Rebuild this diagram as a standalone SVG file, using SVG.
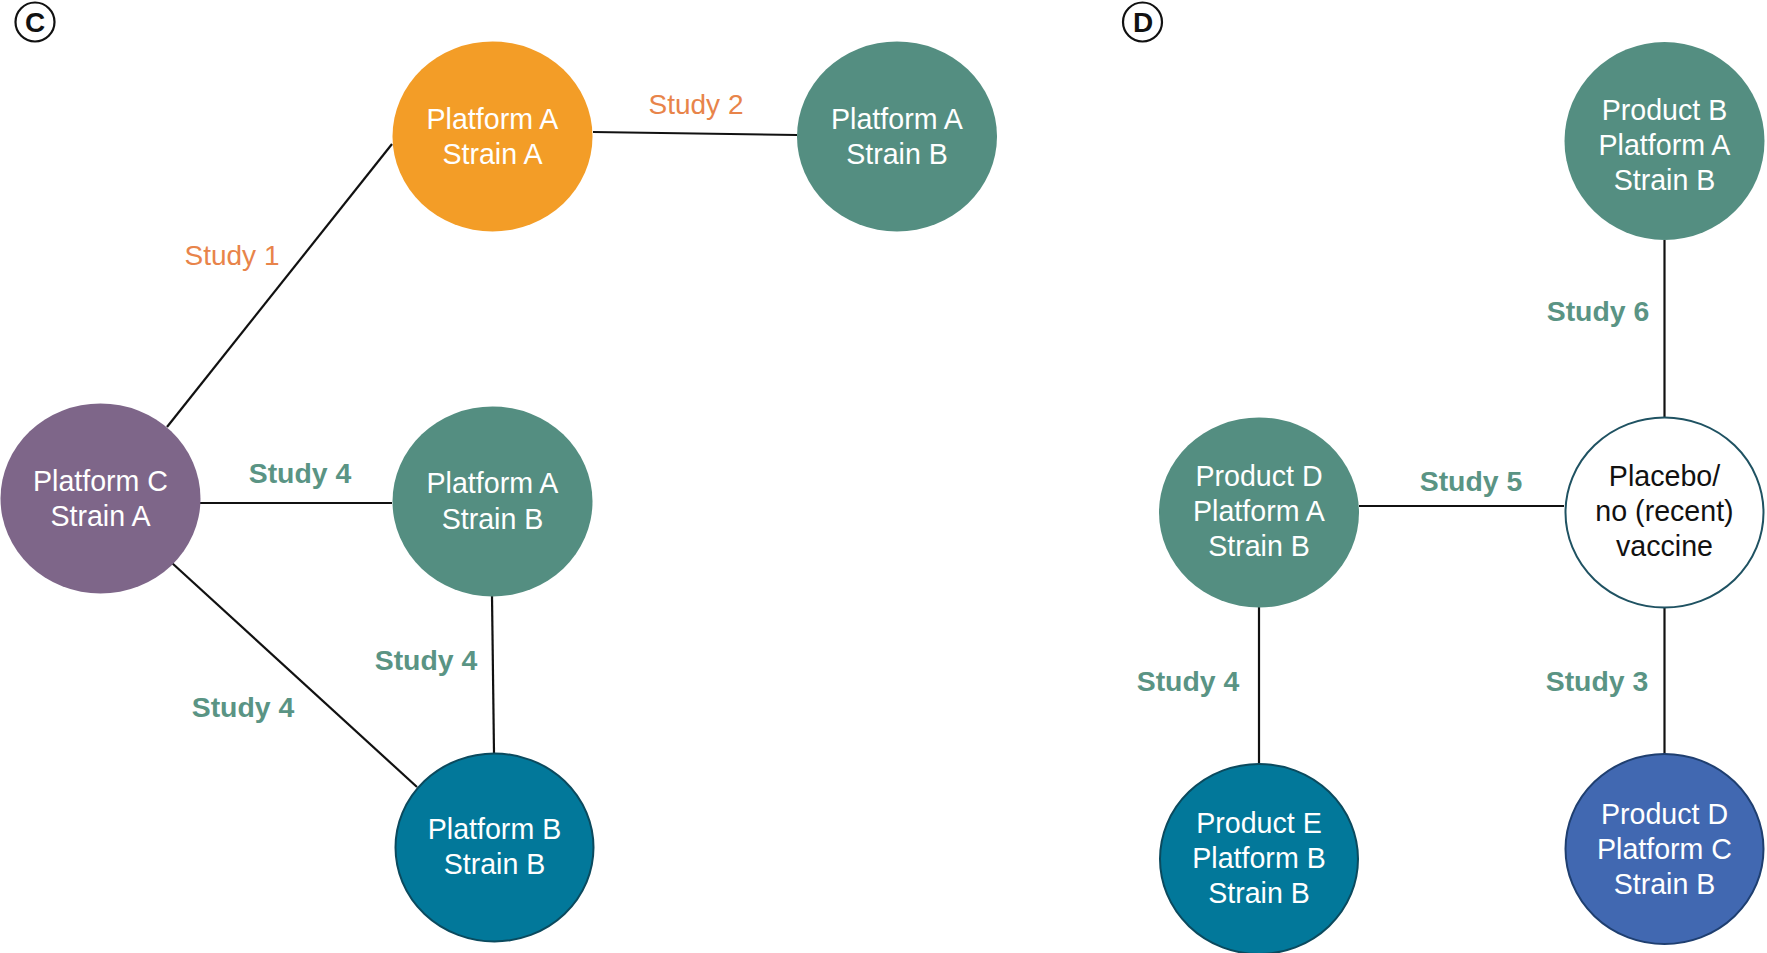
<svg xmlns="http://www.w3.org/2000/svg" width="1767" height="953" viewBox="0 0 1767 953">
<style>
.nt{font-family:"Liberation Sans",Arial,sans-serif;font-size:28.6px;fill:#fff;text-anchor:middle}
.nb{font-family:"Liberation Sans",Arial,sans-serif;font-size:28.6px;fill:#111;text-anchor:middle}
.so{font-family:"Liberation Sans",Arial,sans-serif;font-size:28px;fill:#E8844A;text-anchor:middle}
.sg{font-family:"Liberation Sans",Arial,sans-serif;font-size:28.4px;font-weight:bold;fill:#5A9484;text-anchor:middle}
.ln{stroke:#111;stroke-width:2.2;fill:none}
.pl{font-family:"Liberation Sans",Arial,sans-serif;font-size:28px;font-weight:bold;fill:#111;text-anchor:middle}
</style>
<rect width="1767" height="953" fill="#fff"/>
<g id="label-C"><circle cx="35" cy="22" r="19.5" fill="none" stroke="#111" stroke-width="2.2"/><text class="pl" x="35" y="32">C</text></g>
<g id="label-D"><circle cx="1142.5" cy="22" r="19.5" fill="none" stroke="#111" stroke-width="2.2"/><text class="pl" x="1143" y="32">D</text></g>
<g id="connectors">
<line class="ln" x1="593" y1="132" x2="797" y2="135"/>
<line class="ln" x1="167" y1="427" x2="392" y2="144"/>
<line class="ln" x1="200" y1="503" x2="392" y2="503"/>
<line class="ln" x1="172" y1="563" x2="417" y2="787"/>
<line class="ln" x1="492" y1="596" x2="494" y2="753"/>
<line class="ln" x1="1664.5" y1="240" x2="1664.5" y2="417"/>
<line class="ln" x1="1359" y1="506" x2="1564" y2="506"/>
<line class="ln" x1="1259" y1="607" x2="1259" y2="764"/>
<line class="ln" x1="1664.5" y1="608" x2="1664.5" y2="754"/>
<text class="so" x="696" y="114">Study 2</text>
<text class="so" x="232" y="265">Study 1</text>
<text class="sg" x="300" y="483">Study 4</text>
<text class="sg" x="426" y="670">Study 4</text>
<text class="sg" x="243" y="717">Study 4</text>
<text class="sg" x="1598" y="321">Study 6</text>
<text class="sg" x="1471" y="491">Study 5</text>
<text class="sg" x="1188" y="691">Study 4</text>
<text class="sg" x="1597" y="691">Study 3</text>
</g>
<g id="node-c-pa-sa"><ellipse cx="492.5" cy="136.5" rx="100" ry="95" fill="#F39D27"/><text class="nt" x="492.5" y="128.5">Platform A</text><text class="nt" x="492.5" y="163.5">Strain A</text></g>
<g id="node-c-pa-sb-top"><ellipse cx="897" cy="136.5" rx="100" ry="95" fill="#548E81"/><text class="nt" x="897" y="128.5">Platform A</text><text class="nt" x="897" y="163.5">Strain B</text></g>
<g id="node-c-pc-sa"><ellipse cx="100.5" cy="498.5" rx="100" ry="95" fill="#7E6689"/><text class="nt" x="100.5" y="490.5">Platform C</text><text class="nt" x="100.5" y="525.5">Strain A</text></g>
<g id="node-c-pa-sb-mid"><ellipse cx="492.5" cy="501.5" rx="100" ry="95" fill="#548E81"/><text class="nt" x="492.5" y="493">Platform A</text><text class="nt" x="492.5" y="528.5">Strain B</text></g>
<g id="node-c-pb-sb"><ellipse cx="494.5" cy="847.5" rx="99" ry="94" fill="#02789A" stroke="#0B4A5E" stroke-width="2"/><text class="nt" x="494.5" y="839">Platform B</text><text class="nt" x="494.5" y="874">Strain B</text></g>
<g id="node-d-prodB"><ellipse cx="1664.5" cy="141" rx="100" ry="99" fill="#548E81"/><text class="nt" x="1664.5" y="120">Product B</text><text class="nt" x="1664.5" y="155">Platform A</text><text class="nt" x="1664.5" y="190">Strain B</text></g>
<g id="node-d-placebo"><ellipse cx="1664.5" cy="512.5" rx="99" ry="95" fill="#fff" stroke="#1F5262" stroke-width="2"/><text class="nb" x="1664.5" y="486">Placebo/</text><text class="nb" x="1664.5" y="521">no (recent)</text><text class="nb" x="1664.5" y="556">vaccine</text></g>
<g id="node-d-prodD-pa"><ellipse cx="1259" cy="512.5" rx="100" ry="95" fill="#548E81"/><text class="nt" x="1259" y="486">Product D</text><text class="nt" x="1259" y="521">Platform A</text><text class="nt" x="1259" y="556">Strain B</text></g>
<g id="node-d-prodE"><ellipse cx="1259" cy="859" rx="99" ry="95" fill="#02789A" stroke="#0B4A5E" stroke-width="2"/><text class="nt" x="1259" y="832.5">Product E</text><text class="nt" x="1259" y="867.5">Platform B</text><text class="nt" x="1259" y="902.5">Strain B</text></g>
<g id="node-d-prodD-pc"><ellipse cx="1664.5" cy="849" rx="99" ry="95" fill="#4168B1" stroke="#1F3F70" stroke-width="2"/><text class="nt" x="1664.5" y="823.5">Product D</text><text class="nt" x="1664.5" y="858.5">Platform C</text><text class="nt" x="1664.5" y="893.5">Strain B</text></g>
</svg>
